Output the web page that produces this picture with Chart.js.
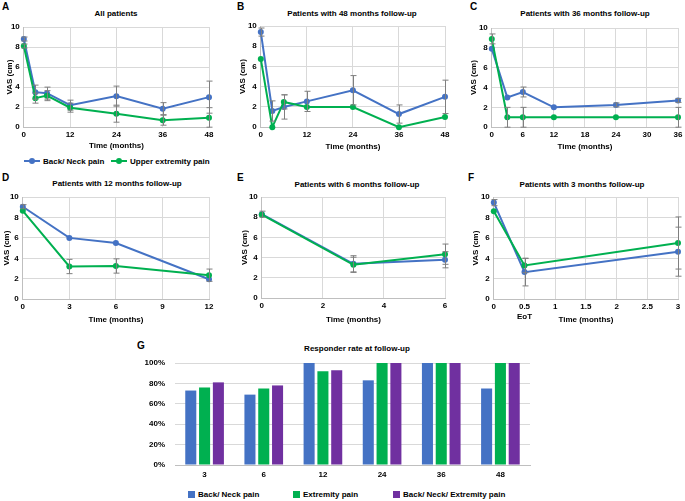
<!DOCTYPE html>
<html>
<head>
<meta charset="utf-8">
<script src="https://cdn.jsdelivr.net/npm/chart.js@4"></script>
<style>
  body { margin: 0; width: 685px; height: 501px; position: relative; overflow: hidden; background: #fff;
         font-family: "Liberation Sans", Arial, sans-serif; }
  canvas { position: absolute; }
  .lbl { position: absolute; font-size: 10px; font-weight: bold; transform: translateY(-50%); }
  .ttl { position: absolute; font-size: 8px; font-weight: bold; white-space: nowrap; transform: translate(-50%, -50%); }
  .lg { position: absolute; font-size: 8px; font-weight: bold; white-space: nowrap; transform: translateY(-50%); }
  .sw { position: absolute; }
</style>
</head>
<body>
<div class="lbl" style="left:2px;top:6px">A</div>
<div class="lbl" style="left:237px;top:6px">B</div>
<div class="lbl" style="left:470px;top:6px">C</div>
<div class="lbl" style="left:2px;top:177px">D</div>
<div class="lbl" style="left:237px;top:177px">E</div>
<div class="lbl" style="left:468px;top:177px">F</div>
<div class="lbl" style="left:137px;top:345px">G</div>

<div class="ttl" style="left:116px;top:13px">All patients</div>
<div class="ttl" style="left:352px;top:13px">Patients with 48 months follow-up</div>
<div class="ttl" style="left:585px;top:13px">Patients with 36 months follow-up</div>
<div class="ttl" style="left:117px;top:183px">Patients with 12 months follow-up</div>
<div class="ttl" style="left:357px;top:184px">Patients with 6 months follow-up</div>
<div class="ttl" style="left:582px;top:184px">Patients with 3 months follow-up</div>
<div class="ttl" style="left:357px;top:348px">Responder rate at follow-up</div>

<!-- legend of panel A -->
<div class="sw" style="left:24px;top:160px;width:16px;height:2px;background:#4472C4"></div>
<div class="sw" style="left:29px;top:158px;width:6px;height:6px;border-radius:3px;background:#4472C4"></div>
<div class="lg" style="left:43px;top:161px">Back/ Neck pain</div>
<div class="sw" style="left:111px;top:160px;width:16px;height:2px;background:#00B050"></div>
<div class="sw" style="left:116px;top:158px;width:6px;height:6px;border-radius:3px;background:#00B050"></div>
<div class="lg" style="left:130px;top:161px">Upper extremity pain</div>

<!-- legend of panel G -->
<div class="sw" style="left:188px;top:491px;width:7px;height:7px;background:#4472C4"></div>
<div class="lg" style="left:198px;top:494px">Back/ Neck pain</div>
<div class="sw" style="left:293px;top:491px;width:7px;height:7px;background:#00B050"></div>
<div class="lg" style="left:303px;top:494px">Extremity pain</div>
<div class="sw" style="left:393px;top:491px;width:7px;height:7px;background:#7030A0"></div>
<div class="lg" style="left:403px;top:494px">Back/ Neck/ Extremity pain</div>

<canvas id="a"></canvas>
<canvas id="b"></canvas>
<canvas id="c"></canvas>
<canvas id="d"></canvas>
<canvas id="e"></canvas>
<canvas id="f"></canvas>
<canvas id="g"></canvas>

<script>
// A: all patients
const aMonths = [0, 3, 6, 12, 24, 36, 48];
const aBack = [8.8, 3.5, 3.4, 2.2, 3.1, 1.85, 3.0];
const aBackErr = [0.2, 0.7, 0.6, 0.5, 1.0, 0.6, 1.6];
const aUpper = [8.1, 2.9, 3.15, 1.95, 1.35, 0.7, 0.95];
const aUpperErr = [0.2, 0.5, 0.5, 0.45, 0.85, 0.5, 1.0];

// B: 48 months follow-up
const bMonths = [0, 3, 6, 12, 24, 36, 48];
const bBack = [9.4, 1.6, 2.0, 2.55, 3.65, 1.3, 3.0];
const bBackErr = [0.4, 1.0, 1.2, 1.0, 1.45, 0.9, 1.65];
const bUpper = [6.75, 0, 2.5, 2.0, 2.0, 0, 1.0];
const bUpperErr = [0, 0, 0.7, 0, 0, 0, 0];

// C: 36 months follow-up
const cMonths = [0, 3, 6, 12, 24, 36];
const cBack = [7.9, 3.0, 3.55, 2.0, 2.25, 2.7];
const cBackErr = [0, 0, 0.5, 0, 0.2, 0.2];
const cUpper = [8.9, 1.0, 1.0, 1.0, 1.0, 1.0];
const cUpperErr = [0.5, 1.0, 1.0, 0, 0, 1.0];

// D: 12 months follow-up
const dMonths = [0, 3, 6, 12];
const dBack = [9.05, 6.0, 5.5, 1.95];
const dBackErr = [0.2, 0, 0, 0];
const dUpper = [8.65, 3.2, 3.25, 2.35];
const dUpperErr = [0, 0.7, 0.7, 0.6];

// E: 6 months follow-up
const eMonths = [0, 3, 6];
const eBack = [8.3, 3.4, 3.8];
const eBackErr = [0.3, 0.8, 0.8];
const eUpper = [8.25, 3.3, 4.35];
const eUpperErr = [0, 0.75, 1.0];

// F: 3 months follow-up (0.5 = end of treatment)
const fMonths = [0, 0.5, 3];
const fBack = [9.45, 2.65, 4.65];
const fBackErr = [0.3, 1.35, 2.4];
const fUpper = [8.6, 3.3, 5.5];
const fUpperErr = [0, 0.7, 2.55];

// G: responder rate (%)
const gFollowUp = ['3', '6', '12', '24', '36', '48'];
const gBack = [73, 69, 100, 83, 100, 75];
const gExtremity = [76, 75, 92, 100, 100, 100];
const gBoth = [81, 78, 93, 100, 100, 100];

const BLUE = '#4472C4', GREEN = '#00B050', PURPLE = '#7030A0';
const GRID = '#d9d9d9', AXIS = '#bfbfbf';

Chart.defaults.font.family = '"Liberation Sans", Arial, sans-serif';
Chart.defaults.font.size = 8;
Chart.defaults.font.weight = 'bold';
Chart.defaults.color = '#000';

// vertical error bars with caps, read from dataset.errors
const errorBars = {
  id: 'errorBars',
  afterDatasetsDraw(chart) {
    const ctx = chart.ctx, ys = chart.scales.y;
    ctx.save();
    ctx.strokeStyle = '#7f7f7f';
    ctx.lineWidth = 1;
    chart.data.datasets.forEach((ds, i) => {
      if (!ds.errors) return;
      chart.getDatasetMeta(i).data.forEach((pt, j) => {
        const e = ds.errors[j];
        if (!e) return;
        const v = ds.data[j].y;
        const top = ys.getPixelForValue(v + e);
        const bot = ys.getPixelForValue(Math.max(0, v - e));
        const x = Math.round(pt.x) + 0.5;
        ctx.beginPath();
        ctx.moveTo(x, top); ctx.lineTo(x, bot);
        ctx.moveTo(x - 3, top); ctx.lineTo(x + 3, top);
        ctx.moveTo(x - 3, bot); ctx.lineTo(x + 3, bot);
        ctx.stroke();
      });
    });
    ctx.restore();
  }
};

function linePanel(id, box, months, back, backErr, upper, upperErr, xStep, xMax, xFmt) {
  const padL = box.l - box.yt + 8.8;
  const padB = box.xt + 8.8 - box.b;
  const el = document.getElementById(id);
  el.width = Math.round(box.r - box.l + padL + 10);
  el.height = Math.round(box.b - box.t + 8 + padB);
  el.style.left = (box.l - padL) + 'px';
  el.style.top = (box.t - 8) + 'px';
  const pts = (xs, ys) => xs.map((x, i) => ({ x: x, y: ys[i] }));
  new Chart(el, {
    type: 'line',
    data: {
      datasets: [
        { label: 'Back/ Neck pain', data: pts(months, back), errors: backErr,
          borderColor: BLUE, backgroundColor: BLUE, order: 1, clip: false },
        { label: 'Upper extremity pain', data: pts(months, upper), errors: upperErr,
          borderColor: GREEN, backgroundColor: GREEN, order: 0, clip: false }
      ]
    },
    options: {
      responsive: false,
      animation: false,
      layout: { padding: { left: 0, top: 8, right: 10, bottom: 0 }, autoPadding: false },
      plugins: { legend: { display: false }, tooltip: { enabled: false } },
      elements: { line: { borderWidth: 2, tension: 0 }, point: { radius: 3, borderWidth: 0 } },
      scales: {
        x: {
          type: 'linear', min: 0, max: xMax,
          ticks: { stepSize: xStep, padding: 3, maxRotation: 0, autoSkip: false,
                   callback: xFmt || (v => String(v)) },
          grid: { color: GRID, drawTicks: false },
          border: { color: AXIS },
          title: { display: true, text: 'Time (months)' },
          afterFit: s => { s.height = padB; s.paddingLeft = 0; s.paddingRight = 0; }
        },
        y: {
          min: 0, max: 10,
          ticks: { stepSize: 2, padding: 4 },
          grid: { color: GRID, drawTicks: false },
          border: { color: AXIS },
          title: { display: true, text: 'VAS (cm)' },
          afterFit: s => { s.width = padL; s.paddingTop = 0; s.paddingBottom = 0; }
        }
      }
    },
    plugins: [errorBars]
  });
}

linePanel('a', { l: 24, r: 209, t: 27, b: 127, yt: 10, xt: 146 },
  aMonths, aBack, aBackErr, aUpper, aUpperErr, 12, 48);
linePanel('b', { l: 261, r: 445, t: 26, b: 127, yt: 243, xt: 147 },
  bMonths, bBack, bBackErr, bUpper, bUpperErr, 12, 48);
linePanel('c', { l: 492, r: 678, t: 28, b: 127, yt: 474, xt: 147 },
  cMonths, cBack, cBackErr, cUpper, cUpperErr, 6, 36);
linePanel('d', { l: 23, r: 209, t: 197, b: 299, yt: 7, xt: 320 },
  dMonths, dBack, dBackErr, dUpper, dUpperErr, 3, 12);
linePanel('e', { l: 262, r: 445, t: 197, b: 298, yt: 245, xt: 320 },
  eMonths, eBack, eBackErr, eUpper, eUpperErr, 2, 6);
linePanel('f', { l: 494, r: 678, t: 197, b: 299, yt: 476, xt: 320 },
  fMonths, fBack, fBackErr, fUpper, fUpperErr, 0.5, 3,
  v => (v === 0.5 ? ['0.5', 'EoT'] : String(v)));

// G: grouped bars
(function () {
  const box = { l: 175, r: 530, t: 363, b: 465 };
  const padL = 45, padB = 20;
  const el = document.getElementById('g');
  el.width = box.r - box.l + padL + 10;
  el.height = box.b - box.t + 8 + padB;
  el.style.left = (box.l - padL) + 'px';
  el.style.top = (box.t - 8) + 'px';
  new Chart(el, {
    type: 'bar',
    data: {
      labels: gFollowUp,
      datasets: [
        { label: 'Back/ Neck pain', data: gBack, backgroundColor: BLUE },
        { label: 'Extremity pain', data: gExtremity, backgroundColor: GREEN },
        { label: 'Back/ Neck/ Extremity pain', data: gBoth, backgroundColor: PURPLE }
      ]
    },
    options: {
      responsive: false,
      animation: false,
      categoryPercentage: 0.7,
      barPercentage: 0.8,
      layout: { padding: { left: 0, top: 8, right: 10, bottom: 0 }, autoPadding: false },
      plugins: { legend: { display: false }, tooltip: { enabled: false } },
      scales: {
        x: {
          ticks: { padding: 5 },
          grid: { display: false, drawTicks: false },
          border: { color: AXIS },
          afterFit: s => { s.height = padB; s.paddingLeft = 0; s.paddingRight = 0; }
        },
        y: {
          min: 0, max: 100,
          ticks: { stepSize: 20, padding: 10, callback: v => v + '%' },
          grid: { color: GRID, drawTicks: false },
          border: { display: false },
          afterFit: s => { s.width = padL; s.paddingTop = 0; s.paddingBottom = 0; }
        }
      }
    }
  });
})();
</script>
</body>
</html>
